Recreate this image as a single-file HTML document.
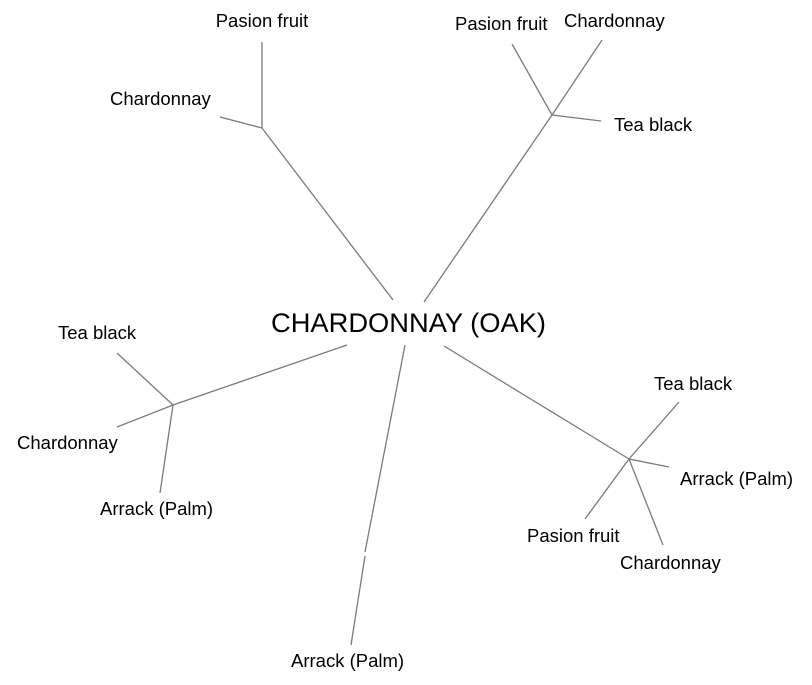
<!DOCTYPE html>
<html><head><meta charset="utf-8"><style>
html,body{margin:0;padding:0;background:#fff;}
svg{display:block;}
text{font-family:"Liberation Sans",Arial,sans-serif;font-size:18.5px;fill:#000;}
</style></head><body>
<svg width="812" height="685" viewBox="0 0 812 685" xmlns="http://www.w3.org/2000/svg">
<g stroke="#7a7a7a" stroke-width="1.3" fill="none">
<line x1="393" y1="300" x2="262" y2="128"/>
<line x1="262" y1="128" x2="262" y2="42"/>
<line x1="262" y1="128" x2="220" y2="117"/>
<line x1="424" y1="302" x2="552" y2="115"/>
<line x1="552" y1="115" x2="512" y2="44"/>
<line x1="552" y1="115" x2="602" y2="40"/>
<line x1="552" y1="115" x2="601" y2="121"/>
<line x1="347" y1="345" x2="173" y2="405"/>
<line x1="173" y1="405" x2="117" y2="353"/>
<line x1="173" y1="405" x2="117" y2="427"/>
<line x1="173" y1="405" x2="160" y2="493"/>
<line x1="405" y1="345" x2="365" y2="552"/>
<line x1="365" y1="556" x2="351" y2="645"/>
<line x1="444" y1="346" x2="629" y2="459"/>
<line x1="629" y1="459" x2="679" y2="402"/>
<line x1="629" y1="459" x2="669" y2="467"/>
<line x1="629" y1="459" x2="585" y2="519"/>
<line x1="629" y1="459" x2="663" y2="545"/>
</g>
<text x="262" y="27" text-anchor="middle">Pasion fruit</text>
<text x="110" y="105">Chardonnay</text>
<text x="455" y="30">Pasion fruit</text>
<text x="564" y="27">Chardonnay</text>
<text x="614" y="131">Tea black</text>
<text x="271" y="332" style="font-size:27px" textLength="275" lengthAdjust="spacingAndGlyphs">CHARDONNAY (OAK)</text>
<text x="58" y="339">Tea black</text>
<text x="17" y="449">Chardonnay</text>
<text x="100" y="515">Arrack (Palm)</text>
<text x="291" y="667">Arrack (Palm)</text>
<text x="654" y="390">Tea black</text>
<text x="680" y="485">Arrack (Palm)</text>
<text x="527" y="542">Pasion fruit</text>
<text x="620" y="569">Chardonnay</text>
</svg>
</body></html>
